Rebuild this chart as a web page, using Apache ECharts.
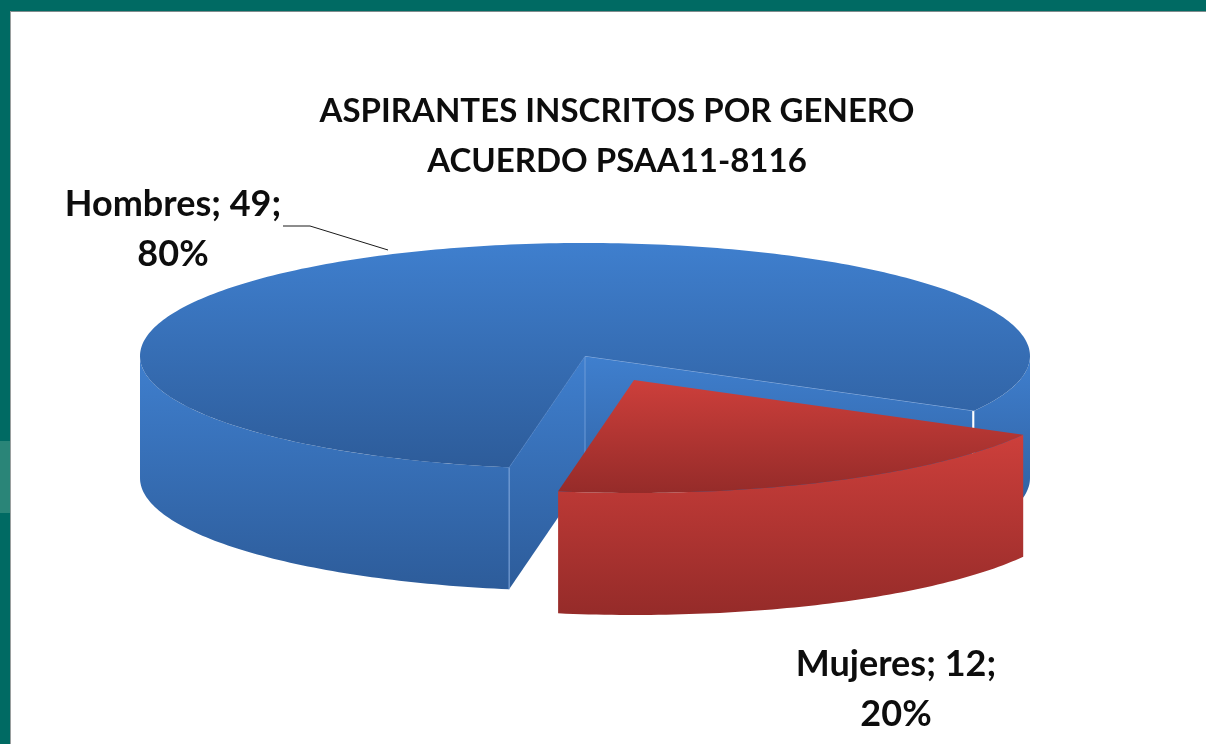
<!DOCTYPE html>
<html>
<head>
<meta charset="utf-8">
<style>html,body{margin:0;padding:0;background:#fff}#c{width:1206px;height:744px}</style>
<script src="https://cdn.jsdelivr.net/npm/echarts@6/dist/echarts.min.js"></script>
</head>
<body>
<div id="c"></div>
<script>
const categories = ['Hombres', 'Mujeres'];
const values = [49, 12];
const titleLines = ['ASPIRANTES INSCRITOS POR GENERO', 'ACUERDO PSAA11-8116'];

const total = values.reduce((a, b) => a + b, 0);
const FONT = 'Lato, "Open Sans", sans-serif';
const geo = {cx: 585, cy: 356, rx: 445, ry: 113, depth: 122, firstSliceEnd: 29};
const looks = [
  {dx: 0, dy: 0, top: ['#3f7fce', '#2d5c9a'], wall: ['#3f7fce', '#2d5c9a'], labelX: 173, labelY: 229},
  {dx: 49, dy: 24, top: ['#cd3f3b', '#952b29'], wall: ['#cd3f3b', '#952b29'], labelX: 896, labelY: 689}
];

function grad(c) {
  return {type: 'linear', x: 0, y: 0, x2: 0, y2: 1, colorStops: [{offset: 0, color: c[0]}, {offset: 1, color: c[1]}]};
}
// Sector angles (clockwise on screen, degrees) follow from the values.
function sweep(i) {
  const redSweep = values[1] / total * 360;
  return i === 1
    ? [geo.firstSliceEnd, geo.firstSliceEnd + redSweep]
    : [geo.firstSliceEnd + redSweep, geo.firstSliceEnd + 360];
}
function pt(a, o) {
  const r = a * Math.PI / 180;
  return [geo.cx + o.dx + geo.rx * Math.cos(r), geo.cy + o.dy + geo.ry * Math.sin(r)];
}
function wall(edge, colors) {
  const lower = edge.slice().reverse().map(p => [p[0], p[1] + geo.depth]);
  return {type: 'polygon', silent: true, shape: {points: edge.concat(lower)}, style: {fill: grad(colors)}};
}
function arc(a0, a1, o) {
  const pts = [], n = Math.max(1, Math.ceil(Math.abs(a1 - a0)));
  for (let k = 0; k <= n; k++) pts.push(pt(a0 + (a1 - a0) * k / n, o));
  return pts;
}
function line(points, color, width) {
  return {type: 'polyline', silent: true, shape: {points}, style: {fill: null, stroke: color, lineWidth: width}};
}

function renderItem(params, api) {
  const i = params.dataIndex, o = looks[i], [a0, a1] = sweep(i);
  const kids = [];
  const apex = [geo.cx + o.dx, geo.cy + o.dy];
  if (i === 0) {
    const pEnd = pt(a1 - 360, o), pStart = pt(a0, o);
    kids.push(wall(arc(0, a1 - 360, o), o.wall));
    kids.push(wall(arc(a0, 180, o), o.wall));
    kids.push(wall([pEnd, apex], o.wall));
    kids.push(wall([apex, pStart], o.wall));
    kids.push(line([[pEnd[0] - 1, pEnd[1]], [pEnd[0] - 1, pEnd[1] + geo.depth]], '#ffffff', 2));
    kids.push(line([pStart, [pStart[0], pStart[1] + geo.depth]], '#7ea6dc', 1));
    kids.push(line([apex, [apex[0], apex[1] + geo.depth]], '#6d9bd8', 1));
    kids.push(line([apex, pEnd], '#8fb2e2', 1));
    kids.push(line([apex, pStart], '#5a8ccf', 1));
  } else {
    kids.push(wall(arc(a0, a1, o), o.wall));
  }
  kids.push({type: 'polygon', silent: true,
    shape: {points: [apex].concat(arc(a0, a1, o))},
    style: {fill: grad(o.top)}});
  if (i === 0) {
    kids.push(line([[283, 226], [310, 226], [388, 250]], '#1a1a1a', 1));
  }
  const pct = Math.round(api.value(0) / total * 100);
  kids.push({type: 'text', silent: true, z2: 50, style: {
    text: categories[i] + '; ' + api.value(0) + ';\n' + pct + '%',
    x: o.labelX, y: o.labelY, align: 'center', verticalAlign: 'middle',
    font: 'bold 36px ' + FONT, lineHeight: 50, fill: '#0d0d0d'
  }});
  return {type: 'group', children: kids};
}

const chart = echarts.init(document.getElementById('c'), null, {renderer: 'canvas'});
chart.setOption({
  animation: false,
  backgroundColor: '#ffffff',
  title: {
    text: titleLines.join('\n'), left: 612, top: 81, textAlign: 'center',
    textStyle: {fontFamily: FONT, fontWeight: 'bold', fontSize: 33, lineHeight: 50, color: '#0d0d0d'}
  },
  graphic: [
    {type: 'rect', silent: true, shape: {x: 0, y: 0, width: 1206, height: 11}, style: {fill: '#006a63'}, z: -1},
    {type: 'rect', silent: true, shape: {x: 0, y: 0, width: 10, height: 744}, style: {fill: '#006a63'}, z: -1},
    {type: 'rect', silent: true, shape: {x: 0, y: 441, width: 10, height: 72}, style: {fill: '#2a8578'}, z: -1},
    {type: 'rect', silent: true, shape: {x: 10, y: 11, width: 1196, height: 1}, style: {fill: '#7f8c8d'}, z: -1},
    {type: 'rect', silent: true, shape: {x: 10, y: 11, width: 1, height: 733}, style: {fill: '#9a9f9f'}, z: -1}
  ],
  series: [{
    type: 'custom', coordinateSystem: 'none', renderItem, silent: true,
    data: categories.map((c, i) => ({name: c, value: values[i]}))
  }]
});
</script>
</body>
</html>
